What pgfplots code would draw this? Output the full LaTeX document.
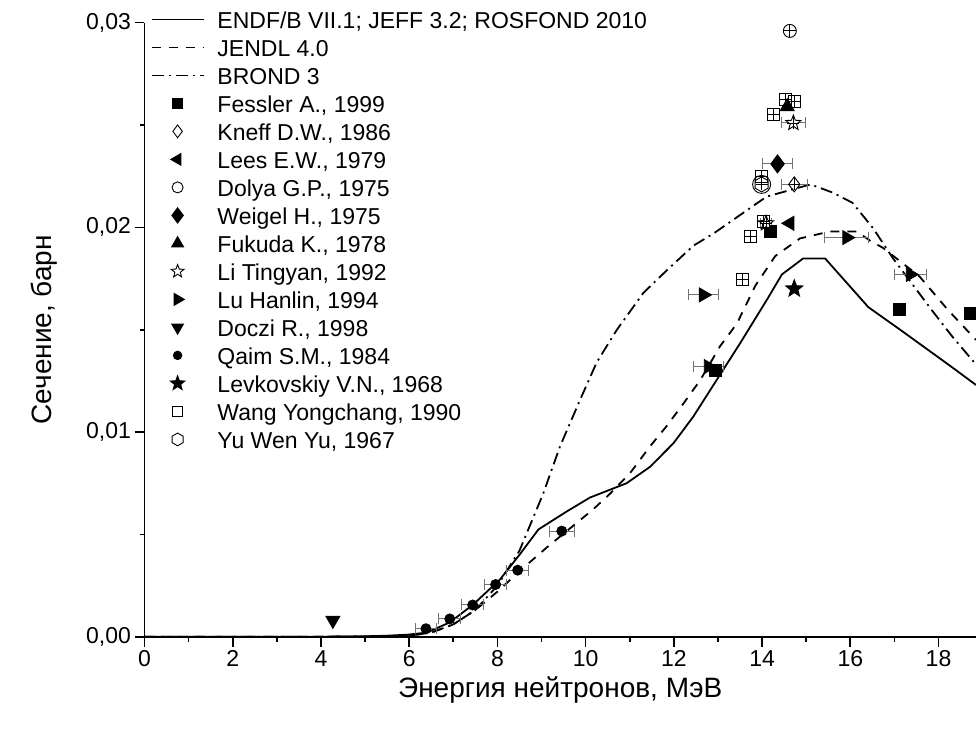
\documentclass[border=0pt]{standalone}
\usepackage{fontspec}
\setmainfont{Liberation Sans}
\usepackage{pgfplots}
\pgfplotsset{compat=1.18}
\usetikzlibrary{plotmarks}

\pgfdeclareplotmark{hexa}{%
  \pgfpathmoveto{\pgfqpointpolar{90}{\pgfplotmarksize}}%
  \pgfpathlineto{\pgfqpointpolar{150}{\pgfplotmarksize}}%
  \pgfpathlineto{\pgfqpointpolar{210}{\pgfplotmarksize}}%
  \pgfpathlineto{\pgfqpointpolar{270}{\pgfplotmarksize}}%
  \pgfpathlineto{\pgfqpointpolar{330}{\pgfplotmarksize}}%
  \pgfpathlineto{\pgfqpointpolar{30}{\pgfplotmarksize}}%
  \pgfpathclose\pgfusepathqstroke}
\pgfdeclareplotmark{fstar}{%
  \pgfpathmoveto{\pgfqpointpolar{90}{\pgfplotmarksize}}%
  \pgfpathlineto{\pgfqpointpolar{126}{0.42\pgfplotmarksize}}%
  \pgfpathlineto{\pgfqpointpolar{162}{\pgfplotmarksize}}%
  \pgfpathlineto{\pgfqpointpolar{198}{0.42\pgfplotmarksize}}%
  \pgfpathlineto{\pgfqpointpolar{234}{\pgfplotmarksize}}%
  \pgfpathlineto{\pgfqpointpolar{270}{0.42\pgfplotmarksize}}%
  \pgfpathlineto{\pgfqpointpolar{306}{\pgfplotmarksize}}%
  \pgfpathlineto{\pgfqpointpolar{342}{0.42\pgfplotmarksize}}%
  \pgfpathlineto{\pgfqpointpolar{18}{\pgfplotmarksize}}%
  \pgfpathlineto{\pgfqpointpolar{54}{0.42\pgfplotmarksize}}%
  \pgfpathclose\pgfusepathqfillstroke}

\pgfplotsset{
  lg/.style={legend image code/.code={\draw[mark repeat=2,mark phase=2,##1,every mark/.append style={scale=0.85}] plot coordinates {(0pt,4.5pt) (26pt,4.5pt) (52pt,4.5pt)};}},
  eb/.style={/pgfplots/error bars/x dir=both, /pgfplots/error bars/x explicit,
     /pgfplots/error bars/error bar style={black!55, line width=1pt},
     /pgfplots/error bars/error mark options={black!55, line width=1pt, mark size=5.5pt, rotate=90}},
  mk/.style={only marks, black, line width=0.9pt},
}

\begin{document}
\begin{tikzpicture}
\useasboundingbox (-144.5pt,-92.3pt) rectangle (831.5pt,636.7pt);
\begin{axis}[
  at={(0pt,0pt)}, anchor=south west,
  scale only axis, width=831.5pt, height=614pt,
  xmin=0, xmax=18.85, ymin=0, ymax=0.03,
  axis x line*=bottom, axis y line*=left,
  axis line style={line width=1.6pt},
  xtick={0,2,...,18}, ytick={0,0.01,0.02,0.03},
  minor x tick num=1, minor y tick num=1,
  tick align=outside,
  major tick length=10pt, minor tick length=5pt,
  every tick/.style={black, line width=1.6pt},
  scaled y ticks=false,
  /pgf/number format/assume math mode=true,
  yticklabel style={/pgf/number format/.cd, fixed, fixed zerofill, precision=2, use comma},
  ticklabel style={font=\fontsize{23}{27}\selectfont},
  xlabel={Энергия нейтронов, МэВ},
  ylabel={Сечение, барн},
  label style={font=\fontsize{28}{32}\selectfont},
  xlabel style={at={(axis description cs:0.5,0)}, anchor=center, yshift=-53pt},
  ylabel style={at={(axis description cs:0,0.5)}, anchor=center, yshift=100pt},
  legend cell align=left,
  legend style={at={(axis description cs:0,1)}, anchor=north west, xshift=3pt, yshift=15pt,
     draw=none, fill=none, font=\fontsize{23}{27}\selectfont,
     column sep=13pt, row sep=0pt,
     nodes={inner xsep=0pt, inner ysep=0pt, text height=19pt, text depth=9pt}},
]
% ENDF/B VII.1; JEFF 3.2; ROSFOND 2010
\addplot[black, line width=1.8pt, lg] coordinates {
(0,0) (4,0) (5,0.00002) (5.5,0.00005) (5.97,0.0001) (6.4,0.0002) (6.92,0.0007)
(7.45,0.00157) (8.06,0.0028) (8.5,0.0040) (8.93,0.00524) (9.58,0.00613)
(10.1,0.0068) (10.93,0.0075) (11.46,0.0083) (11.99,0.00945) (12.44,0.01075)
(12.97,0.01254) (13.5,0.01433) (14.12,0.0165) (14.45,0.0177) (14.93,0.01848) (15.43,0.01848)
(16.41,0.0161) (17.13,0.0150) (18.26,0.01324) (18.85,0.0123)};
\addlegendentry{ENDF/B VII.1; JEFF 3.2; ROSFOND 2010}
% JENDL 4.0
\addplot[black, line width=1.8pt, dash pattern=on 9pt off 8pt, lg] coordinates {
(0,0) (4,0) (5.5,0.00002) (6,0.00005) (6.5,0.0002) (7,0.0006) (7.5,0.0013)
(8,0.0022) (8.5,0.0032) (9.12,0.00436) (10.17,0.00622) (10.56,0.0070)
(11.01,0.0080) (11.46,0.0093) (11.84,0.0103) (12.22,0.0114) (12.6,0.01254) (13.05,0.0142)
(13.43,0.0153) (13.85,0.01716) (14.3,0.0186) (14.86,0.01946) (15.54,0.0198) (16.15,0.0198)
(16.44,0.01936) (16.74,0.0190) (17.57,0.0176) (18.2,0.0160) (18.85,0.0145)};
\addlegendentry{JENDL 4.0}
% BROND 3
\addplot[black, line width=1.8pt, dash pattern=on 12pt off 5pt on 2pt off 5pt, lg] coordinates {
(0,0) (4,0) (5.5,0.00002) (6,0.00005) (6.5,0.0002) (7,0.0006) (7.5,0.0013)
(8,0.0025) (8.5,0.0042) (9.04,0.0070) (9.42,0.0093) (9.88,0.0116) (10.25,0.0134)
(10.71,0.0150) (11.31,0.0168) (11.84,0.0179) (12.44,0.0191) (12.9,0.0197) (13.3,0.0203) (14.1,0.0215)
(14.6,0.0218) (15.1,0.0221) (15.6,0.0217) (16.05,0.0212) (16.52,0.01995)
(16.97,0.01848) (17.85,0.01595) (18.31,0.01467) (18.85,0.0133)};
\addlegendentry{BROND 3}
% Fessler
\addplot[mk, mark=square*, mark size=6pt, lg] coordinates {
(12.94,0.0130) (14.20,0.0198) (17.12,0.0160) (18.72,0.0158)};
\addlegendentry{Fessler A., 1999}
% Kneff
\addplot[mk, mark=diamond, mark size=7.5pt, mark options={fill=white}, lg, eb] coordinates {
(14.73,0.0221) +- (0.29,0)};
\addlegendentry{Kneff D.W., 1986}
% Lees
\addplot[mk, mark=triangle*, mark size=8pt, mark options={rotate=90}, lg] coordinates {
(14.63,0.0202)};
\addlegendentry{Lees E.W., 1979}
% Dolya
\addplot[mk, mark=o, mark size=9pt, mark options={fill=white}, forget plot] coordinates {
(13.99,0.0221)};
\addplot[mk, mark=o, mark size=6.5pt, mark options={fill=white}, lg] coordinates {
(14.63,0.0296)};
\addlegendentry{Dolya G.P., 1975}
% Weigel
\addplot[mk, mark=diamond*, mark size=9pt, lg, eb] coordinates {
(14.35,0.0231) +- (0.34,0)};
\addlegendentry{Weigel H., 1975}
% Fukuda
\addplot[mk, mark=triangle*, mark size=8pt, lg] coordinates {
(14.57,0.0259)};
\addlegendentry{Fukuda K., 1978}
% Li Tingyan
\addplot[mk, mark=fstar, mark size=8pt, mark options={fill=white}, lg, eb] coordinates {
(14.71,0.0251) +- (0.27,0) (14.09,0.0202) +- (0.12,0)};
\addlegendentry{Li Tingyan, 1992}
% Lu Hanlin
\addplot[mk, mark=triangle*, mark size=8pt, mark options={rotate=-90}, lg, eb] coordinates {
(12.67,0.0167) +- (0.34,0) (12.78,0.0132) +- (0.34,0) (15.92,0.0195) +- (0.5,0) (17.36,0.0177) +- (0.36,0)};
\addlegendentry{Lu Hanlin, 1994}
% Doczi
\addplot[mk, mark=triangle*, mark size=8pt, mark options={rotate=180}, lg] coordinates {
(4.27,0.0008)};
\addlegendentry{Doczi R., 1998}
% Qaim
\addplot[mk, mark=*, mark size=5pt, lg, eb] coordinates {
(6.38,0.00039) +- (0.23,0) (6.92,0.00087) +- (0.25,0) (7.44,0.00155) +- (0.25,0)
(7.96,0.00255) +- (0.25,0) (8.46,0.00325) +- (0.25,0) (9.46,0.00516) +- (0.29,0)};
\addlegendentry{Qaim S.M., 1984}
% Levkovskiy
\addplot[mk, mark=fstar, mark size=9pt, mark options={fill=black}, lg] coordinates {
(14.73,0.0170)};
\addlegendentry{Levkovskiy V.N., 1968}
% Wang
\addplot[mk, mark=square, mark size=6pt, mark options={fill=white}, lg] coordinates {
(14.52,0.02624) (14.73,0.02613) (14.26,0.02551) (13.99,0.02248) (13.73,0.01957)
(13.56,0.01745) (14.02,0.0203)};
\addlegendentry{Wang Yongchang, 1990}
% Yu Wen Yu
\addplot[mk, mark=hexa, mark size=7.5pt, lg] coordinates {
(13.99,0.0221)};
\addlegendentry{Yu Wen Yu, 1967}
% crosshairs on open markers (no legend)
\addplot[mk, mark=+, mark size=6pt, forget plot] coordinates {
(14.52,0.02624) (14.73,0.02613) (14.26,0.02551) (13.99,0.02248) (13.73,0.01957)
(13.56,0.01745) (14.02,0.0203) (14.73,0.0221) (14.71,0.0251) (14.09,0.0202) (13.99,0.0221) (14.63,0.0296)};
\end{axis}
\end{tikzpicture}
\end{document}
